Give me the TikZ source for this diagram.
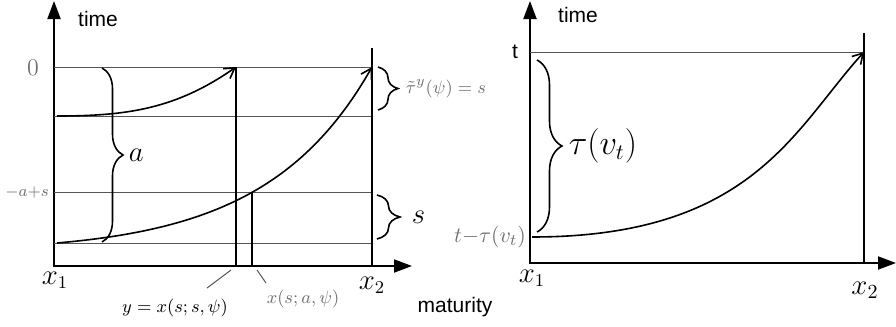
\documentclass[tikz,border=0pt]{standalone}
\usepackage{fontspec}
\usepackage{amsmath}
\usepackage{tikz}
\usetikzlibrary{arrows.meta,positioning,calc,decorations.pathreplacing,intersections}
\newfontfamily\helv{Liberation Sans}
\definecolor{lblgray}{HTML}{707070}
\definecolor{linegray}{HTML}{555555}

\begin{document}
\begin{tikzpicture}[x=0.5pt, y=-0.5pt,
  axes/.style={line width=1pt, {Triangle[length=9pt,width=6.5pt]}-{Triangle[length=9pt,width=6.5pt]}},
  hline/.style={line width=0.5pt, linegray},
  vline/.style={line width=0.8pt},
  traj/.style={line width=0.8pt, -{Straight Barb[length=5pt,width=6pt]}},
  brc/.style={decorate, decoration={brace, amplitude=#1}, line width=0.8pt},
  sans/.style={font=\helv\fontsize{10.5}{12}\selectfont, inner sep=0pt},
  mlbl/.style={font=\fontsize{#1}{#1}\selectfont, inner sep=0pt},
  glbl/.style={font=\fontsize{#1}{#1}\selectfont, inner sep=0pt, lblgray}
]
  \useasboundingbox (0,0) rectangle (896,327);

  % left panel
  \coordinate (ytopL) at (54,1);
  \coordinate (orgL) at (54,266);
  \coordinate (xendL) at (412,266);
  \draw[axes] (ytopL) -- (orgL) -- (xendL);

  \coordinate (zeroL) at (54,67);
  \coordinate (zeroR) at (372,67);
  \draw[hline] (zeroL) -- (zeroR);
  \draw[hline] (54,116) -- (372,116);
  \draw[hline, name path=midline] (54,192) -- (372,192);
  \draw[hline] (54,243) -- (372,243);

  \coordinate (yhit) at (236,67);
  \coordinate (x2topL) at (372,48);
  \draw[vline] (yhit) -- (yhit |- orgL);
  \draw[vline] (x2topL) -- (x2topL |- orgL);

  \coordinate (startA) at (57,116);
  \coordinate (startB) at (57,243);
  \draw[traj] (startA) .. controls (127,116) and (176,109) .. (yhit);
  \draw[traj, name path=curveB] (startB) .. controls (207,230) and (302,190) .. (zeroR);

  \path[name intersections={of=curveB and midline, by=xhit}];
  \draw[vline] (xhit) -- (xhit |- orgL);

  % braces
  \draw[brc=10.5pt] (102,68) -- (102,242) node[midway, right=13pt, mlbl=14] (alab) {$a$};
  \draw[brc=10pt] (378,67) -- (378,110) node[midway, right=13.5pt, glbl=9.5] (tlab) {$\tilde{\tau}^y(\psi) = s$};
  \draw[brc=11.5pt] (377,195) -- (377,239) node[midway, right=17pt, mlbl=15] (slab) {$s$};

  % labels
  \node[sans] (timeL) at (98,19) {time};
  \node[glbl=12] (zerolab) at (33,68) {$0$};
  \node[glbl=8] (aslab) at (27,192) {${-}a{+}s$};
  \node[mlbl=13.5] (x1L) at (55,280) {$x_1$};
  \node[mlbl=13.5] (x2L) at (372,285) {$x_2$};
  \node[sans] (matlab) at (455,307) {maturity};
  \node[mlbl=9.5] (ylab) at (175,308) {$y = x(s;s,\psi)$};
  \node[glbl=9] (xlab) at (303,299) {$x(s;a,\psi)$};

  \coordinate (ldA) at (231,270);
  \coordinate (ldB) at (207,288);
  \coordinate (ldC) at (257,270);
  \coordinate (ldD) at (266,283);
  \draw[line width=0.5pt, linegray] (ldA) -- (ldB);
  \draw[line width=0.5pt, linegray] (ldC) -- (ldD);

  % right panel
  \coordinate (ytopR) at (530,1);
  \coordinate (orgR) at (530,263);
  \coordinate (xendR) at (896,263);
  \draw[axes] (ytopR) -- (orgR) -- (xendR);

  \coordinate (tL) at (530,52);
  \coordinate (tR) at (864,52);
  \coordinate (x2topR) at (864,33);
  \draw[hline] (tL) -- (tR);
  \draw[vline] (x2topR) -- (x2topR |- orgR);

  \coordinate (startC) at (532,237);
  \draw[traj] (startC) .. controls (752,237) and (794,129) .. (tR);

  \draw[brc=12.5pt] (537,60) -- (537,232) node[midway, right=15.5pt, mlbl=16] (taulab) {$\tau(v_t)$};

  \node[sans] (timeR) at (578,15) {time};
  \node[sans] (tlabR) at (515,52) {t};
  \node[glbl=11] (ttaulab) at (490,237) {$t{-}\tau(v_t)$};
  \node[mlbl=13.5] (x1R) at (532,278) {$x_1$};
  \node[mlbl=14] (x2R) at (865,290) {$x_2$};
\end{tikzpicture}
\end{document}
